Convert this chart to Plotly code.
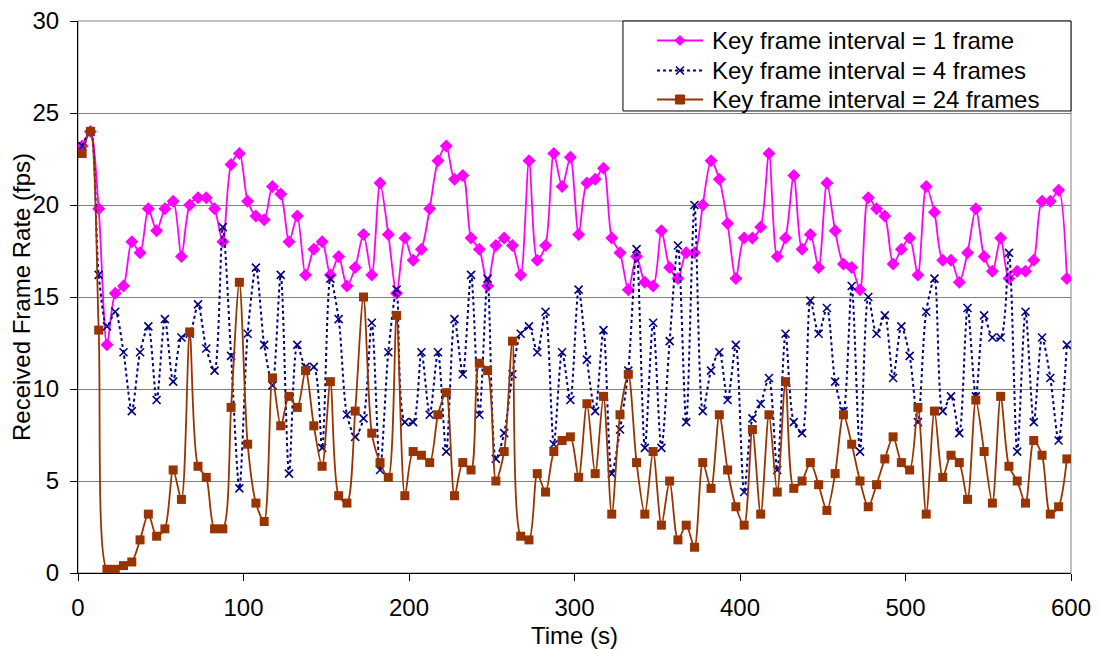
import plotly.graph_objects as go

# Time stamps (s): one sample every 5 s, centred in each 5 s window
time_s = [2.5 + 5 * k for k in range(120)]

kf1 = [23.2, 24.0, 19.8, 12.4, 15.2, 15.6, 18.0, 17.4, 19.8, 18.6, 19.8, 20.2, 17.2, 20.0, 20.4,
       20.4, 19.8, 18.0, 22.2, 22.8, 20.2, 19.4, 19.2, 21.0, 20.6, 18.0, 19.4, 16.2, 17.6, 18.0,
       16.2, 17.2, 15.6, 16.6, 18.4, 16.2, 21.2, 18.4, 15.2, 18.2, 17.0, 17.6, 19.8, 22.4, 23.2,
       21.4, 21.6, 18.2, 17.6, 15.6, 17.8, 18.2, 17.8, 16.2, 22.4, 17.0, 17.8, 22.8, 21.0, 22.6,
       18.4, 21.2, 21.4, 22.0, 18.2, 17.4, 15.4, 17.2, 15.8, 15.6, 18.6, 16.6, 16.0, 17.4, 17.4,
       20.0, 22.4, 21.4, 19.0, 16.0, 18.2, 18.2, 18.8, 22.8, 17.2, 18.2, 21.6, 17.6, 18.4, 16.6,
       21.2, 18.6, 16.8, 16.6, 15.4, 20.4, 19.8, 19.4, 16.8, 17.6, 18.2, 16.2, 21.0, 19.6, 17.0,
       17.0, 15.8, 17.4, 19.8, 17.2, 16.4, 18.2, 16.0, 16.4, 16.4, 17.0, 20.2, 20.2, 20.8, 16.0]

kf4 = [23.2, 24.0, 16.2, 13.4, 14.2, 12.0, 8.8, 12.0, 13.4, 9.4, 13.8, 10.4, 12.8, 13.0, 14.6,
       12.2, 11.0, 18.8, 11.8, 4.6, 13.0, 16.6, 12.4, 10.2, 16.2, 5.4, 12.4, 11.2, 11.2, 6.8,
       16.0, 13.8, 8.6, 7.4, 8.4, 13.6, 5.6, 12.0, 15.4, 8.2, 8.2, 12.0, 8.6, 12.0, 6.6,
       13.8, 10.8, 16.2, 8.6, 16.0, 6.2, 7.6, 10.8, 13.0, 13.4, 12.0, 14.2, 7.0, 12.0, 9.4,
       15.4, 11.6, 8.8, 13.2, 5.4, 7.8, 11.0, 17.6, 6.8, 13.6, 6.8, 12.6, 17.8, 8.2, 20.0,
       8.8, 11.0, 12.0, 9.4, 12.4, 4.4, 8.4, 9.2, 10.6, 5.6, 13.0, 8.2, 7.6, 14.8, 13.0,
       14.4, 10.4, 8.8, 15.6, 6.6, 15.0, 13.0, 14.0, 10.6, 13.4, 11.8, 8.2, 14.2, 16.0, 8.8,
       9.6, 7.6, 14.4, 9.6, 14.0, 12.8, 12.8, 17.4, 6.6, 14.2, 8.2, 12.8, 10.6, 7.2, 12.4]

kf24 = [22.8, 24.0, 13.2, 0.2, 0.2, 0.4, 0.6, 1.8, 3.2, 2.0, 2.4, 5.6, 4.0, 13.1, 5.8,
        5.2, 2.4, 2.4, 9.0, 15.8, 7.0, 3.8, 2.8, 10.6, 8.0, 9.6, 9.0, 11.0, 8.0, 5.8,
        10.4, 4.2, 3.8, 8.8, 15.0, 7.6, 6.0, 5.2, 14.0, 4.2, 6.6, 6.4, 6.0, 8.6, 9.8,
        4.2, 6.0, 5.6, 11.4, 11.0, 5.0, 6.6, 12.6, 2.0, 1.8, 5.4, 4.4, 6.6, 7.2, 7.4,
        5.2, 9.2, 5.4, 9.6, 3.2, 8.6, 10.8, 6.0, 3.2, 6.6, 2.6, 5.0, 1.8, 2.6, 1.4,
        6.0, 4.6, 8.6, 5.6, 3.6, 2.6, 7.8, 3.2, 8.6, 4.4, 10.4, 4.6, 5.0, 6.0, 4.8,
        3.4, 5.4, 8.6, 7.0, 5.0, 3.6, 4.8, 6.2, 7.4, 6.0, 5.6, 9.0, 3.2, 8.8, 5.2,
        6.4, 6.0, 4.0, 9.4, 6.6, 3.8, 9.6, 5.8, 5.0, 3.8, 7.2, 6.4, 3.2, 3.6, 6.2]

series_names = ["Key frame interval = 1 frame",
                "Key frame interval = 4 frames",
                "Key frame interval = 24 frames"]

x_ticks = [0, 100, 200, 300, 400, 500, 600]
y_ticks = [0, 5, 10, 15, 20, 25, 30]

FONT = "Liberation Sans, Arial, sans-serif"
FS = 24
SM = 0.8

colors = ["#FF00FF", "#000080", "#993300"]
dashes = ["solid", "dot", "solid"]

fig = go.Figure()
fig.add_trace(go.Scatter(
    x=time_s, y=kf1, name=series_names[0], mode="lines+markers",
    line=dict(color=colors[0], width=1.8, shape="spline", smoothing=SM),
    marker=dict(symbol="diamond", size=10, color=colors[0])))
fig.add_trace(go.Scatter(
    x=time_s, y=kf4, name=series_names[1], mode="lines+markers",
    line=dict(color=colors[1], width=2, dash="dot", shape="spline", smoothing=SM),
    marker=dict(symbol="x-thin", size=8, color=colors[1],
                line=dict(color=colors[1], width=1.6))))
fig.add_trace(go.Scatter(
    x=time_s, y=kf24, name=series_names[2], mode="lines+markers",
    line=dict(color=colors[2], width=1.8, shape="spline", smoothing=SM),
    marker=dict(symbol="square", size=9, color=colors[2])))

# plot-area frame (grey top/right like the Excel plot area)
fig.add_shape(type="rect", xref="paper", yref="paper", x0=0, y0=0, x1=1, y1=1,
              line=dict(color="#808080", width=1), layer="below")

# ---- Excel-style legend box (top right, inside plot area) ----
fig.add_shape(type="rect", xref="paper", yref="paper", x0=0.5488, x1=1.0, y0=0.837, y1=1.0,
              line=dict(color="black", width=1), fillcolor="white", layer="above")
row_y = [0.9647, 0.9103, 0.8578]
line_x0, line_x1, mark_x, text_x = 0.5831, 0.6294, 0.6062, 0.6365
marker_paths = [
    ("M -5,0 L 0,5 L 5,0 L 0,-5 Z", colors[0], colors[0], 1),
    ("M -4,-4 L 4,4 M -4,4 L 4,-4", None, colors[1], 1.6),
    ("M -4.5,-4.5 L 4.5,-4.5 L 4.5,4.5 L -4.5,4.5 Z", colors[2], colors[2], 1),
]
for i, name in enumerate(series_names):
    fig.add_shape(type="line", xref="paper", yref="paper",
                  x0=line_x0, x1=line_x1, y0=row_y[i], y1=row_y[i],
                  line=dict(color=colors[i], width=1.8 if i != 1 else 2, dash=dashes[i]),
                  layer="above")
    path, fill, lc, lw = marker_paths[i]
    shp = dict(type="path", xref="paper", yref="paper", xsizemode="pixel", ysizemode="pixel",
               xanchor=mark_x, yanchor=row_y[i], path=path,
               line=dict(color=lc, width=lw), layer="above")
    if fill:
        shp["fillcolor"] = fill
    fig.add_shape(**shp)
    fig.add_annotation(x=text_x, y=row_y[i], xref="paper", yref="paper",
                       xanchor="left", yanchor="middle", showarrow=False,
                       text=name, font=dict(family=FONT, size=FS, color="black"))

fig.update_layout(
    width=1093, height=642,
    margin=dict(l=70, r=30, t=13, b=77, autoexpand=False),
    paper_bgcolor="white", plot_bgcolor="white",
    font=dict(family=FONT, size=FS, color="black"),
    showlegend=False,
)
fig.update_xaxes(
    range=[0, 600], tickvals=x_ticks, ticks="outside", ticklen=7, tickcolor="black",
    showline=True, linecolor="black", linewidth=1, showgrid=False, zeroline=False,
    automargin=False, ticklabelstandoff=6, ticklabeloverflow="allow",
    title=dict(text="Time (s)", font=dict(size=FS), standoff=7),
    tickfont=dict(size=FS))
fig.update_yaxes(
    range=[0, 30], tickvals=y_ticks, ticks="outside", ticklen=7, tickcolor="black",
    showline=True, linecolor="black", linewidth=1,
    showgrid=True, gridcolor="#808080", gridwidth=1, zeroline=False,
    automargin=False, ticklabelstandoff=6, ticklabeloverflow="allow",
    title=dict(text="Received Frame Rate (fps)", font=dict(size=FS), standoff=1),
    tickfont=dict(size=FS))

fig.write_html("out.html")
